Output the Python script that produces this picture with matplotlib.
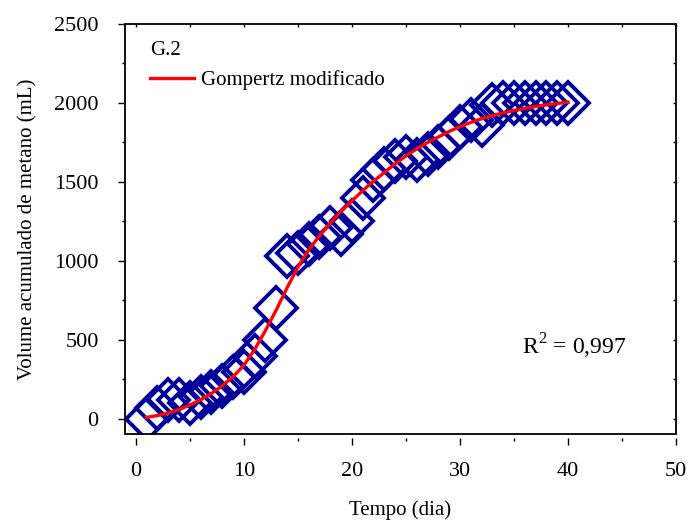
import numpy as np
import matplotlib
matplotlib.use('Agg')
import matplotlib.pyplot as plt
from matplotlib.patches import Rectangle
from matplotlib.ticker import MultipleLocator

plt.rcParams['font.family'] = ['Liberation Serif', 'DejaVu Serif']
plt.rcParams['mathtext.fontset'] = 'custom'
plt.rcParams['mathtext.rm'] = 'Liberation Serif'

# dados experimentais (G.2)
dias = list(range(1, 41))
volume = [0, 70, 120, 120, 100, 140, 170, 210, 265, 300,
          400, 500, 700, 1030, 1050, 1110, 1150, 1210, 1170, 1250,
          1400, 1510, 1580, 1630, 1660, 1640, 1680, 1720, 1780, 1850,
          1890, 1860, 1990, 2000, 2000, 2000, 2000, 2000, 2000, 2000]

# curva ajustada (Gompertz modificado)
dias_fit = list(range(1, 41))
volume_fit = [10, 22, 38, 60, 88, 122, 162, 210, 268, 340,
              440, 560, 690, 830, 960, 1070, 1160, 1240, 1315, 1380,
              1445, 1505, 1560, 1615, 1665, 1710, 1750, 1785, 1820, 1850,
              1877, 1900, 1920, 1938, 1953, 1966, 1978, 1988, 1997, 2005]

fig = plt.figure(figsize=(6.91, 5.24), dpi=100)
ax = fig.add_axes([125/691, 90/524, 551/691, 410/524])

ax.plot(dias, volume, linestyle='none', marker='D', markersize=21.5,
        markerfacecolor='none', markeredgecolor='#000099', markeredgewidth=2.8)
ax.plot(dias_fit, volume_fit, color='red', lw=2.4, label='Gompertz modificado')

ax.set_xlim(-1, 50)
ax.set_ylim(-95, 2500)
ax.xaxis.set_major_locator(MultipleLocator(10))
ax.xaxis.set_minor_locator(MultipleLocator(5))
ax.yaxis.set_major_locator(MultipleLocator(500))
ax.yaxis.set_minor_locator(MultipleLocator(250))

for s in ax.spines.values():
    s.set_visible(False)
ax.spines['bottom'].set_position(('outward', 3))
ax.add_patch(Rectangle((0, 0), 1, 1, transform=ax.transAxes, fill=False,
                       lw=1.3, edgecolor='black', clip_on=False, zorder=5))

ax.tick_params(which='major', direction='out', length=5, width=1, labelsize=16)
ax.tick_params(which='minor', direction='out', length=2.5, width=1)
ax.tick_params(axis='x', pad=12)
ax.tick_params(axis='y', pad=14)

# pequenos ticks internos no topo e a direita
top = ax.secondary_xaxis('top')
top.xaxis.set_major_locator(MultipleLocator(5))
top.tick_params(direction='in', length=2, width=1, labeltop=False)
top.spines['top'].set_visible(False)
right = ax.secondary_yaxis('right')
right.yaxis.set_major_locator(MultipleLocator(250))
right.tick_params(direction='in', length=2, width=1, labelright=False)
right.spines['right'].set_visible(False)

ax.set_xlabel('Tempo (dia)', fontsize=15, labelpad=14)
ax.set_ylabel('Volume acumulado de metano (mL)', fontsize=15, labelpad=12)

leg = ax.legend(loc='upper left', bbox_to_anchor=(0.0, 1.02), title='G.2',
                frameon=False, fontsize=15, title_fontsize=15,
                handlelength=2.1, handletextpad=0.35, alignment='left',
                borderaxespad=0.8)

ax.text(40.6, 460, r'R$^2$ = 0,997', fontsize=17, ha='center', va='center')

fig.savefig('out.png', dpi=100)
